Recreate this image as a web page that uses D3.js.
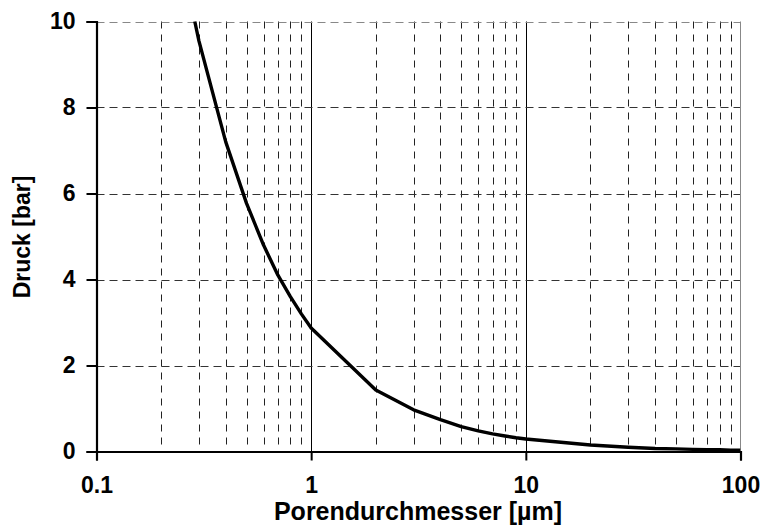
<!DOCTYPE html>
<html>
<head>
<meta charset="utf-8">
<script src="https://cdn.jsdelivr.net/npm/d3@7"></script>
<style>
  html, body { margin: 0; padding: 0; background: #fff; }
  svg { display: block; }
  text { font-family: "Liberation Sans", Arial, sans-serif; font-weight: bold; fill: #000; }
</style>
</head>
<body>
<svg id="chart" width="765" height="529"></svg>
<script>
// Data
const diameters = [0.287, 0.3, 0.4, 0.5, 0.6, 0.7, 0.8, 0.9, 1, 2, 3, 4, 5, 6, 7, 8, 9, 10, 20, 30, 40, 50, 60, 70, 80, 90, 100];
const pressures = [10.0, 9.55, 7.2, 5.77, 4.8, 4.1, 3.6, 3.2, 2.87, 1.43, 0.97, 0.74, 0.58, 0.48, 0.41, 0.36, 0.32, 0.29, 0.15, 0.1, 0.07, 0.06, 0.05, 0.04, 0.04, 0.03, 0.03];
const xTickValues = [0.1, 1, 10, 100];
const xTickLabels = ["0.1", "1", "10", "100"];
const yTickValues = [0, 2, 4, 6, 8, 10];
const xTitle = "Porendurchmesser [µm]";
const yTitle = "Druck [bar]";

const svg = d3.select("#chart");
const L = 96.5, R = 740.5, T = 21.5, B = 451.5;

const x = d3.scaleLog().domain([0.1, 100]).range([L, R]);
const y = d3.scaleLinear().domain([0, 10]).range([B, T]);

// minor vertical gridlines (2..9 in each decade)
const minor = [];
[0.1, 1, 10].forEach(dec => { for (let k = 2; k <= 9; k++) minor.push(dec * k); });
svg.append("g").selectAll("line").data(minor).join("line")
  .attr("x1", d => Math.round(x(d)) + 0.5).attr("x2", d => Math.round(x(d)) + 0.5)
  .attr("y1", T).attr("y2", B - 6)
  .attr("stroke", "#222").attr("stroke-width", 1)
  .attr("stroke-dasharray", "7,6");

// major vertical gridlines (solid) at 1 and 10
svg.append("g").selectAll("line").data([1, 10]).join("line")
  .attr("x1", d => Math.round(x(d)) + 0.5).attr("x2", d => Math.round(x(d)) + 0.5)
  .attr("y1", T).attr("y2", B)
  .attr("stroke", "#000").attr("stroke-width", 1);

// horizontal dashed gridlines
svg.append("g").selectAll("line").data(yTickValues.filter(v => v > 0)).join("line")
  .attr("x1", L).attr("x2", R)
  .attr("y1", d => Math.round(y(d)) + 0.5).attr("y2", d => Math.round(y(d)) + 0.5)
  .attr("stroke", d => d === 10 ? "#888" : "#333").attr("stroke-width", 1)
  .attr("stroke-dasharray", "8,5");

// right border
svg.append("line")
  .attr("x1", R).attr("x2", R).attr("y1", T).attr("y2", B)
  .attr("stroke", "#888").attr("stroke-width", 1);

// curve
svg.append("clipPath").attr("id", "clip").append("rect")
  .attr("x", L).attr("y", T - 1).attr("width", R - L).attr("height", B - T + 1);
const pts = diameters.map((d, i) => [d, pressures[i]]);
svg.append("path")
  .datum(pts)
  .attr("clip-path", "url(#clip)")
  .attr("fill", "none").attr("stroke", "#000").attr("stroke-width", 3.4)
  .attr("stroke-linejoin", "round")
  .attr("d", d3.line().x(d => x(d[0])).y(d => y(d[1])));

// axes
const xAxis = d3.axisBottom(x).tickValues(xTickValues).tickFormat((d, i) => xTickLabels[i])
  .tickSize(9).tickPadding(16);
const gx = svg.append("g").attr("transform", `translate(0,${B})`).call(xAxis);
gx.select(".domain").attr("stroke", "#000").attr("stroke-width", 2.2);
gx.selectAll(".tick line").attr("stroke", "#000").attr("stroke-width", 2);
gx.selectAll(".tick text").attr("font-size", 23).attr("font-family", "Liberation Sans, Arial, sans-serif")
  .attr("font-weight", "bold").attr("fill", "#000");

const yAxis = d3.axisLeft(y).tickValues(yTickValues).tickFormat(d3.format("d"))
  .tickSize(10).tickPadding(11);
const gy = svg.append("g").attr("transform", `translate(${L},0)`).call(yAxis);
gy.select(".domain").attr("stroke", "#000").attr("stroke-width", 2.2);
gy.selectAll(".tick line").attr("stroke", "#000").attr("stroke-width", 2);
gy.selectAll(".tick text").attr("font-size", 23).attr("font-family", "Liberation Sans, Arial, sans-serif")
  .attr("font-weight", "bold").attr("fill", "#000");

// axis titles
svg.append("text").attr("x", 418).attr("y", 520).attr("text-anchor", "middle")
  .attr("font-size", 25).text(xTitle);
svg.append("text").attr("transform", "translate(30,237) rotate(-90)").attr("text-anchor", "middle")
  .attr("font-size", 23).text(yTitle);
</script>
</body>
</html>
